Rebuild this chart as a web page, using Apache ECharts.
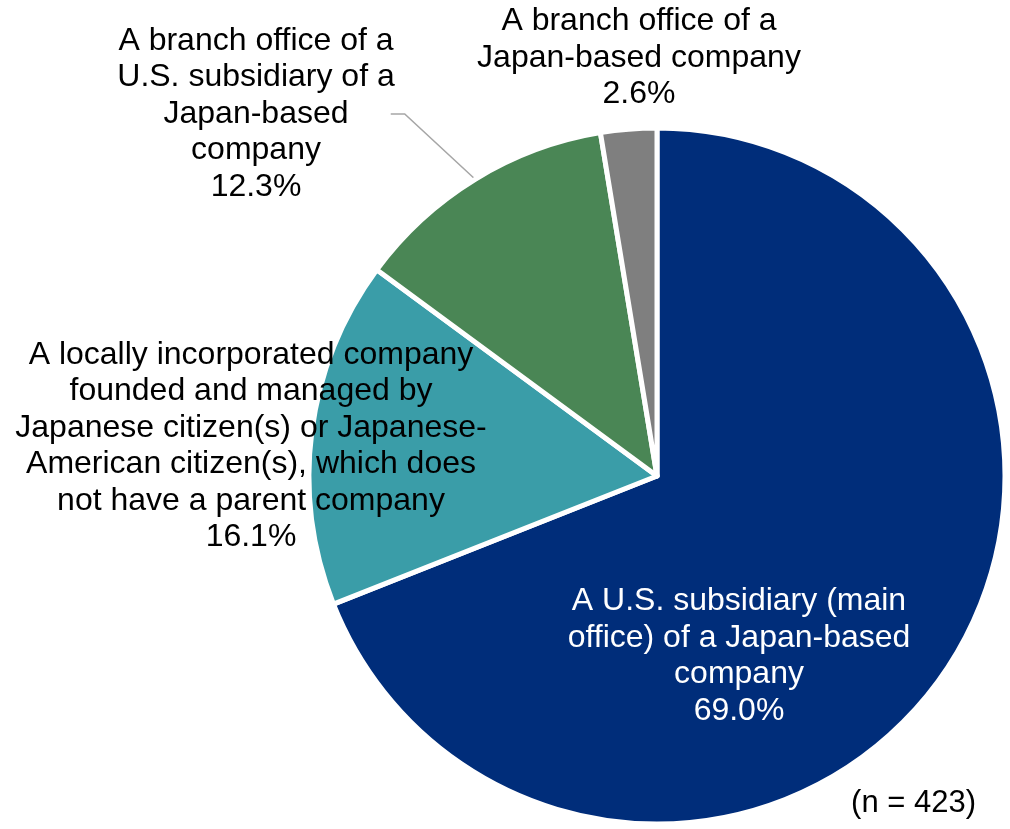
<!DOCTYPE html>
<html>
<head>
<meta charset="utf-8">
<script src="https://cdn.jsdelivr.net/npm/echarts@6/dist/echarts.min.js"></script>
<style>
  html, body { margin: 0; padding: 0; background: #ffffff; }
  #chart { width: 1010px; height: 829px; }
</style>
</head>
<body>
<div id="chart"></div>
<script>
// Company types (slice order, clockwise from 12 o'clock)
const categories = [
  'A U.S. subsidiary (main\noffice) of a Japan-based\ncompany',
  'A locally incorporated company\nfounded and managed by\nJapanese citizen(s) or Japanese-\nAmerican citizen(s), which does\nnot have a parent company',
  'A branch office of a\nU.S. subsidiary of a\nJapan-based\ncompany',
  'A branch office of a\nJapan-based company'
];
// Share of respondents (%)
const shares = [69.0, 16.1, 12.3, 2.6];
const sampleNote = '(n = 423)';

const sliceColors = ['#002D7A', '#3A9DA8', '#4A8655', '#7F7F7F'];
const labelColors = ['#ffffff', '#000000', '#000000', '#000000'];
// label block centres
const labelAnchors = [[739, 656], [251, 446], [256, 114], [639, 58]];

const FONT = "'Liberation Sans', Arial, Helvetica, sans-serif";

const chart = echarts.init(document.getElementById('chart'), null, { renderer: 'canvas' });

const data = categories.map((name, i) => ({
  name: name,
  value: shares[i],
  itemStyle: { color: sliceColors[i] },
  label: { color: labelColors[i], position: i === 0 ? 'inside' : 'outside' },
  labelLine: { show: i === 2 }
}));

chart.setOption({
  animation: false,
  backgroundColor: '#ffffff',
  title: {
    text: sampleNote,
    right: 34,
    top: 788,
    padding: 0,
    textStyle: { fontFamily: FONT, fontSize: 31, fontWeight: 'normal', color: '#000' }
  },
  series: [{
    type: 'pie',
    center: [657, 476],
    radius: 348,
    startAngle: 90,
    clockwise: true,
    silent: true,
    avoidLabelOverlap: false,
    itemStyle: { borderColor: '#ffffff', borderWidth: 5 },
    label: {
      fontFamily: FONT,
      fontSize: 32,
      lineHeight: 36.5,
      align: 'center',
      formatter: p => p.name + '\n' + p.value.toFixed(1) + '%'
    },
    labelLine: {
      lineStyle: { color: '#A6A6A6', width: 1.5 }
    },
    labelLayout: function (params) {
      const a = labelAnchors[params.dataIndex];
      const out = { x: a[0], y: a[1], align: 'center', verticalAlign: 'middle' };
      if (params.dataIndex === 2 && params.labelLinePoints) {
        const start = params.labelLinePoints[0];
        const endX = a[0] + params.labelRect.width / 2 - 4;
        out.labelLinePoints = [start, [endX + 14, a[1]], [endX, a[1]]];
      }
      return out;
    },
    data: data
  }]
});
</script>
</body>
</html>
